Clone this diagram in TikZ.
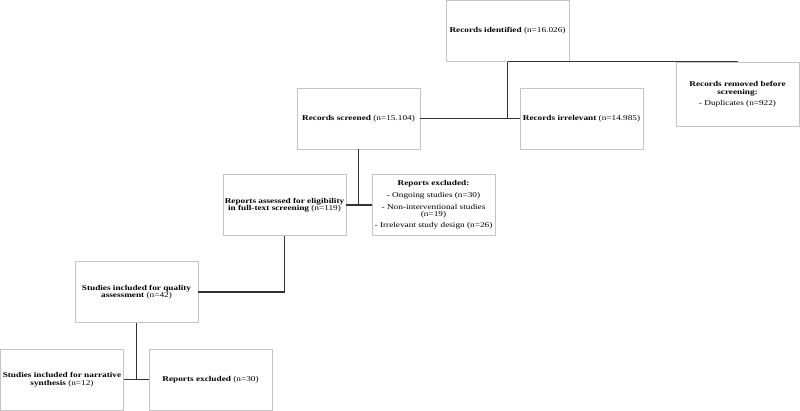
\documentclass[tikz,border=0pt]{standalone}
\usepackage{fontspec}
\setmainfont{Liberation Serif}[FakeStretch=1.25]
\definecolor{boxgray}{HTML}{C4C4C4}
\definecolor{linkgray}{HTML}{333333}
\begin{document}
\begin{tikzpicture}[x=1pt,y=-1pt,
  box/.style={draw=boxgray, line width=0.8pt, minimum width=123pt, minimum height=61pt,
    align=center, inner sep=1pt, font=\fontsize{7.4}{7.5}\selectfont},
  link/.style={draw=linkgray, line width=1.1pt}]
\useasboundingbox (0,0) rectangle (800,411);
\node[box] (ident) at (507.5,31) {\textbf{Records identified} (n=16.026)};
\node[box, minimum height=64pt] (removed) at (737.5,94) {\textbf{Records removed before}\\\textbf{screening:}\\[3.6pt]- Duplicates (n=922)};
\node[box] (screened) at (358.5,118.5) {\textbf{Records screened} (n=15.104)};
\node[box] (irrelevant) at (581.5,118.5) {\textbf{Records irrelevant} (n=14.985)};
\node[box] (assessed) at (284.5,205) {\textbf{Reports assessed for eligibility}\\\textbf{in full-text screening} (n=119)};
\node[box] (excl1) at (433.5,205) {\textbf{Reports excluded:}\\[4pt]- Ongoing studies (n=30)\\[4.5pt]- Non-interventional studies\\(n=19)\\[3.5pt]- Irrelevant study design (n=26)};
\node[box] (quality) at (136.5,292) {\textbf{Studies included for quality}\\\textbf{assessment} (n=42)};
\node[box] (narrative) at (62,379.5) {\textbf{Studies included for narrative}\\\textbf{synthesis} (n=12)};
\node[box] (excl2) at (210.5,379.5) {\textbf{Reports excluded} (n=30)};
\draw[link] (ident.south) -- (ident.south |- screened.east);
\draw[link] (screened.east) -- (irrelevant.west);
\draw[link] (ident.south) -- (ident.south -| removed.north) -- (removed.north);
\draw[link] (screened.south) -- (screened.south |- assessed.east);
\draw[link] (assessed.east) -- (excl1.west);
\draw[link] (assessed.south) |- (quality.east);
\draw[link] (quality.south) -- (quality.south |- narrative.east);
\draw[link] (narrative.east) -- (excl2.west);
\end{tikzpicture}
\end{document}
